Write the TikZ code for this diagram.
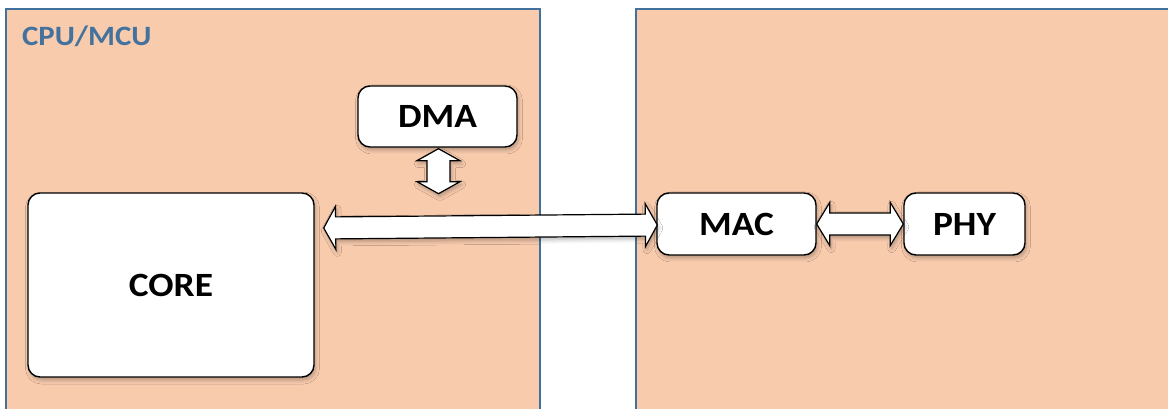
\documentclass[tikz,border=0pt]{standalone}
\usepackage{fontspec}
\setmainfont{Carlito}[FakeStretch=1.1]
\usetikzlibrary{calc,shadows.blur}

\definecolor{panelfill}{HTML}{F8CBAD}
\definecolor{panelline}{HTML}{41719C}
\definecolor{paneltext}{HTML}{44729E}

\tikzset{
  panel/.style={draw=panelline, line width=1.6pt, fill=panelfill},
  block/.style={draw=black, line width=1.4pt, fill=white, rounded corners=12pt,
    inner sep=0pt, font=\fontsize{34}{40}\selectfont\bfseries,
    blur shadow={shadow xshift=1.5pt, shadow yshift=-3pt, shadow blur radius=4pt,
      shadow opacity=28}},
  fatarrow/.style={draw=black, line width=1.2pt, fill=white, line join=miter,
    blur shadow={shadow xshift=1.5pt, shadow yshift=-3pt, shadow blur radius=4pt,
      shadow opacity=28}},
}

% Hollow double-headed arrow between two points:
% #1 first tip, #2 second tip, #3 shaft half width, #4 head half width, #5 head length
\newcommand{\hollowdbl}[5]{%
  \coordinate (ha) at ($(#1)!#5!(#2)$);
  \coordinate (hb) at ($(#2)!#5!(#1)$);
  \path[fatarrow] (#1)
    -- ($(ha)!#4!90:(#2)$) -- ($(ha)!#3!90:(#2)$)
    -- ($(hb)!#3!-90:(#1)$) -- ($(hb)!#4!-90:(#1)$)
    -- (#2)
    -- ($(hb)!#4!90:(#1)$) -- ($(hb)!#3!90:(#1)$)
    -- ($(ha)!#3!-90:(#2)$) -- ($(ha)!#4!-90:(#2)$)
    -- cycle;}

\begin{document}
\begin{tikzpicture}[x=1pt,y=1pt]
  \clip (0,0) rectangle (1168,408);

  % the two boards
  \path[panel] (6,-10) rectangle (540,399);
  \path[panel] (636,-10) rectangle (1180,399);
  \node[anchor=base west, text=paneltext, font=\fontsize{28}{32}\selectfont\bfseries,
        inner sep=0pt] (cpulabel) at (22,362) {CPU/MCU};

  % functional blocks
  \node[block, minimum width=159pt, minimum height=61pt] (dma) at (437.5,291.5) {DMA};
  \node[block, minimum width=286pt, minimum height=184pt] (core) at (171,123) {CORE};
  \node[block, minimum width=159pt, minimum height=62pt] (mac) at (736.5,184) {MAC};
  \node[block, minimum width=121pt, minimum height=62pt] (phy) at (964.5,184) {PHY};

  % bus connections
  \coordinate (dmatop) at ($(dma.south)+(1,-1)$);
  \coordinate (dmabot) at ($(dma.south)+(1,-46)$);
  \hollowdbl{dmatop}{dmabot}{11.5pt}{21.5pt}{12pt}

  \coordinate (coreport) at ($(core.east)+(9,57)$);
  \coordinate (macport) at ($(mac.west)+(1,-1)$);
  \hollowdbl{coreport}{macport}{11pt}{21.5pt}{12pt}

  \hollowdbl{mac.east}{phy.west}{11pt}{21.5pt}{13pt}
\end{tikzpicture}
\end{document}
